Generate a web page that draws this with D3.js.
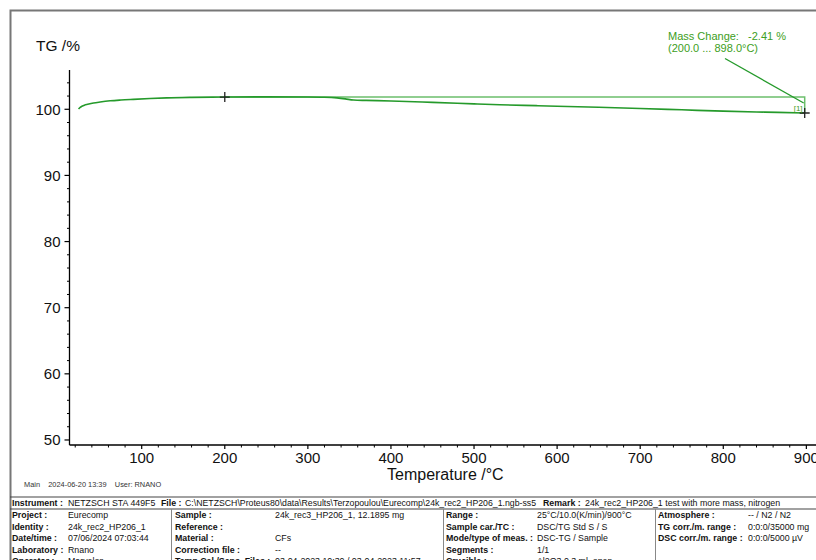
<!DOCTYPE html>
<html>
<head>
<meta charset="utf-8">
<script src="https://cdn.jsdelivr.net/npm/d3@7"></script>
<style>
  html, body { margin: 0; padding: 0; background: #fff; }
  svg { display: block; font-family: "Liberation Sans", Arial, sans-serif; }
</style>
</head>
<body>
<svg id="chart" width="816" height="560"></svg>
<script>
// TG curve: temperature (°C) and mass (%)
const temperature = [24, 26, 28, 31, 35, 42, 50, 62, 75, 90, 110, 130, 160, 200, 250, 300, 320, 335, 345, 355, 370, 400, 450, 500, 531, 575, 600, 650, 700, 750, 800, 850, 898];
const tgMass      = [100.05, 100.3, 100.45, 100.62, 100.75, 100.95, 101.1, 101.28, 101.4, 101.5, 101.62, 101.72, 101.8, 101.85, 101.88, 101.86, 101.82, 101.72, 101.58, 101.4, 101.34, 101.26, 101.05, 100.82, 100.68, 100.55, 100.47, 100.3, 100.12, 99.92, 99.72, 99.57, 99.44];

// Mass change evaluation
const stepStart = 200.0, stepEnd = 898.0, massChange = -2.41;
const stepStartMass = 101.85;

// Axis ticks
const xMajor = [100, 200, 300, 400, 500, 600, 700, 800, 900];
const yMajor = [50, 60, 70, 80, 90, 100];

// Info table
const headerRow = [
  ["Instrument :", "NETZSCH STA 449F5"],
  ["File :", "C:\\NETZSCH\\Proteus80\\data\\Results\\Terzopoulou\\Eurecomp\\24k_rec2_HP206_1.ngb-ss5"],
  ["Remark :", "24k_rec2_HP206_1 test with more mass, nitrogen"]
];
const col1 = [["Project :", "Eurecomp"], ["Identity :", "24k_rec2_HP206_1"], ["Date/time :", "07/06/2024 07:03:44"], ["Laboratory :", "Rnano"], ["Operator :", "Marvelos"]];
const col2 = [["Sample :", "24k_rec3_HP206_1, 12.1895 mg"], ["Reference :", ""], ["Material :", "CFs"], ["Correction file :", "--"], ["Temp.Cal./Sens. Files :", "03-04-2023 10:30 / 03-04-2023 11:57"]];
const col3 = [["Range :", "25°C/10.0(K/min)/900°C"], ["Sample car./TC :", "DSC/TG Std S / S"], ["Mode/type of meas. :", "DSC-TG / Sample"], ["Segments :", "1/1"], ["Crucible :", "Al2O3 0.3 ml, open"]];
const col4 = [["Atmosphere :", "-- / N2 / N2"], ["TG corr./m. range :", "0:0:0/35000 mg"], ["DSC corr./m. range :", "0:0:0/5000 µV"]];

const svg = d3.select("#chart");
const curveColor = "#259a2b";
const boxColor = "#6cbf6c";
const textGreen = "#3d9e22";

// Page frame
svg.append("path").attr("d", "M10.5,560 V10.5 H816")
  .attr("fill", "none").attr("stroke", "#777").attr("stroke-width", 2);

const x = d3.scaleLinear().domain([13.7, 911.6]).range([70, 816]);
const y = d3.scaleLinear().domain([49.24, 105.94]).range([445, 70]);

// Axes
const xAxisG = svg.append("g").attr("transform", "translate(0,445)");
xAxisG.append("line").attr("x1", 69.5).attr("x2", 816).attr("stroke", "#000").attr("stroke-width", 1.3);
xAxisG.selectAll(".minor").data(d3.range(20, 911, 20).filter(t => t % 100 !== 0)).join("line")
  .attr("x1", d => x(d)).attr("x2", d => x(d)).attr("y1", 0).attr("y2", 2.5)
  .attr("stroke", "#000").attr("stroke-width", 1);
xAxisG.selectAll(".major").data(xMajor).join("line")
  .attr("x1", d => x(d)).attr("x2", d => x(d)).attr("y1", 0).attr("y2", 4)
  .attr("stroke", "#000").attr("stroke-width", 1.2);
xAxisG.selectAll("text").data(xMajor).join("text")
  .attr("x", d => x(d)).attr("y", 18).attr("text-anchor", "middle")
  .attr("font-size", 15).attr("fill", "#111").text(d => d);

const yAxisG = svg.append("g").attr("transform", "translate(69.5,0)");
yAxisG.append("line").attr("y1", 70).attr("y2", 445).attr("stroke", "#000").attr("stroke-width", 1.3);
yAxisG.selectAll(".minor").data(d3.range(50, 106, 2).filter(v => v % 10 !== 0)).join("line")
  .attr("y1", d => y(d)).attr("y2", d => y(d)).attr("x1", 0).attr("x2", -2.5)
  .attr("stroke", "#000").attr("stroke-width", 1);
yAxisG.selectAll(".major").data(yMajor).join("line")
  .attr("y1", d => y(d)).attr("y2", d => y(d)).attr("x1", 0).attr("x2", -5)
  .attr("stroke", "#000").attr("stroke-width", 1.2);
yAxisG.selectAll("text").data(yMajor).join("text")
  .attr("x", -9).attr("y", d => y(d) + 5.5).attr("text-anchor", "end")
  .attr("font-size", 15).attr("fill", "#111").text(d => d);

// Axis titles
svg.append("text").attr("x", 36).attr("y", 51).attr("font-size", 15.5).attr("fill", "#111").text("TG /%");
svg.append("text").attr("x", 387).attr("y", 480).attr("font-size", 16).attr("fill", "#111").text("Temperature /°C");

// Mass change step: level at start, drop at the end temperature
const endMass = stepStartMass + massChange;
svg.append("path")
  .attr("d", `M${x(stepStart)},${y(stepStartMass)}H${x(stepEnd)}V${y(endMass)}`)
  .attr("fill", "none").attr("stroke", boxColor).attr("stroke-width", 1.5);

// TG curve
const pts = temperature.map((t, i) => [t, tgMass[i]]);
svg.append("path").datum(pts)
  .attr("d", d3.line().x(d => x(d[0])).y(d => y(d[1])).curve(d3.curveMonotoneX))
  .attr("fill", "none").attr("stroke", curveColor).attr("stroke-width", 1.6);

// Markers at the evaluation limits
[[stepStart, stepStartMass], [stepEnd, endMass]].forEach(([t, m]) => {
  const cx = x(t), cy = y(m);
  svg.append("path").attr("d", `M${cx - 5},${cy}H${cx + 5}M${cx},${cy - 5}V${cy + 5}`)
    .attr("stroke", "#222").attr("stroke-width", 1.3);
});

// Annotation
svg.append("line").attr("x1", 725).attr("y1", 58.5).attr("x2", x(stepEnd) - 1).attr("y2", y(endMass) - 10)
  .attr("stroke", curveColor).attr("stroke-width", 1.3);
svg.append("text").attr("x", 668).attr("y", 39.5).attr("font-size", 11).attr("fill", textGreen)
  .attr("xml:space", "preserve").text(`Mass Change:   ${massChange.toFixed(2)} %`);
svg.append("text").attr("x", 668).attr("y", 51.5).attr("font-size", 11).attr("fill", textGreen)
  .text(`(${stepStart.toFixed(1)} ... ${stepEnd.toFixed(1)}°C)`);
svg.append("text").attr("x", x(stepEnd) - 11).attr("y", y(endMass) - 2).attr("font-size", 8).attr("fill", textGreen).text("[1]");

// Footer
svg.append("text").attr("x", 24).attr("y", 487).attr("font-size", 7.4).attr("fill", "#333")
  .attr("xml:space", "preserve").text("Main    2024-06-20 13:39    User: RNANO");

// Info table
const tbl = svg.append("g").attr("font-size", 8.8).attr("fill", "#111");
tbl.append("line").attr("x1", 10).attr("x2", 816).attr("y1", 497).attr("y2", 497).attr("stroke", "#444").attr("stroke-width", 1.2);
tbl.append("line").attr("x1", 10).attr("x2", 816).attr("y1", 509).attr("y2", 509).attr("stroke", "#444").attr("stroke-width", 1.2);
[171.5, 443.5, 655.5].forEach(xx => {
  tbl.append("line").attr("x1", xx).attr("x2", xx).attr("y1", 509).attr("y2", 560).attr("stroke", "#888").attr("stroke-width", 1);
});

const headerX = [[12, 68], [161, 185], [543, 585]];
headerRow.forEach(([lab, val], i) => {
  tbl.append("text").attr("x", headerX[i][0]).attr("y", 506).attr("font-weight", "bold").text(lab);
  const t = tbl.append("text").attr("x", headerX[i][1]).attr("y", 506).text(val);
  if (i === 1) t.attr("textLength", 351).attr("lengthAdjust", "spacingAndGlyphs");
});

const cols = [[col1, 12, 68], [col2, 175, 275], [col3, 446, 537], [col4, 658, 748]];
cols.forEach(([rows, lx, vx]) => {
  rows.forEach(([lab, val], r) => {
    const yy = 518 + r * 11.6;
    tbl.append("text").attr("x", lx).attr("y", yy).attr("font-weight", "bold").text(lab);
    if (val) tbl.append("text").attr("x", vx).attr("y", yy).text(val);
  });
});
</script>
</body>
</html>
